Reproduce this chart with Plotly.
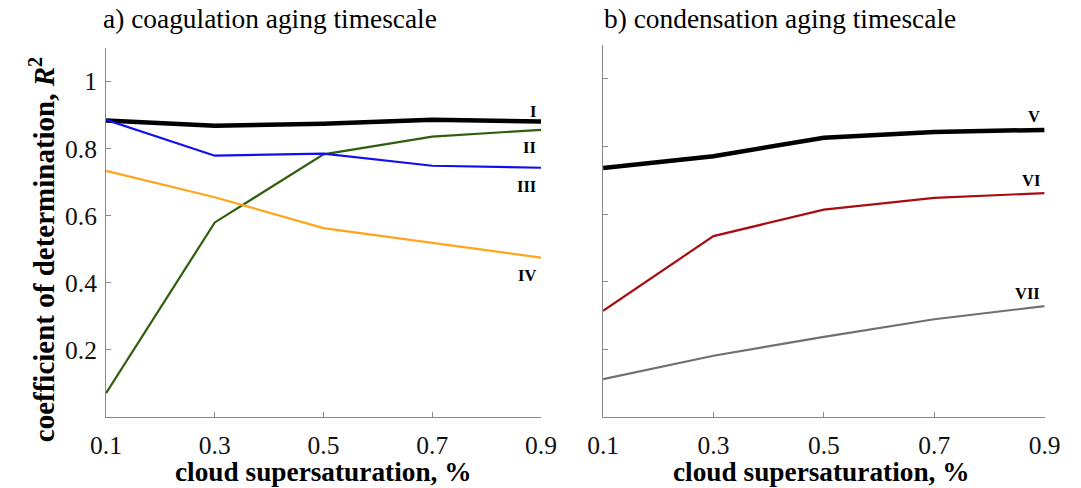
import plotly.graph_objects as go

x_vals = [0.1, 0.3, 0.5, 0.7, 0.9]

# panel a) coagulation aging timescale
coag_I = [0.884, 0.868, 0.874, 0.886, 0.881]
coag_II = [0.071, 0.580, 0.783, 0.836, 0.856]
coag_III = [0.886, 0.779, 0.785, 0.749, 0.743]
coag_IV = [0.734, 0.655, 0.563, 0.518, 0.475]

# panel b) condensation aging timescale
cond_V = [0.736, 0.771, 0.826, 0.843, 0.849]
cond_VI = [0.314, 0.535, 0.613, 0.648, 0.662]
cond_VII = [0.112, 0.181, 0.237, 0.289, 0.328]

x_ticks = [0.1, 0.3, 0.5, 0.7, 0.9]
x_tick_labels = ["0.1", "0.3", "0.5", "0.7", "0.9"]
y_ticks = [0.2, 0.4, 0.6, 0.8, 1.0]
y_tick_labels = ["0.2", "0.4", "0.6", "0.8", "1"]

FONT = "Liberation Serif"
AX = "#888888"
W, H = 1081, 488

series = [
    (coag_I, "I", "#000000", 4.5, "x", "y"),
    (coag_II, "II", "#2e5e0e", 2.2, "x", "y"),
    (coag_III, "III", "#1010ee", 2.2, "x", "y"),
    (coag_IV, "IV", "#ffa41c", 2.2, "x", "y"),
    (cond_V, "V", "#000000", 4.5, "x2", "y2"),
    (cond_VI, "VI", "#a80d10", 2.2, "x2", "y2"),
    (cond_VII, "VII", "#707070", 2.2, "x2", "y2"),
]

fig = go.Figure()
for ys, name, col, w, xa, ya in series:
    fig.add_trace(go.Scatter(x=x_vals, y=ys, mode="lines", name=name,
                             line=dict(color=col, width=w), xaxis=xa, yaxis=ya,
                             showlegend=False))

# curve labels
label_pos = [
    ("I", "x", "y", 0.912), ("II", "x", "y", 0.802), ("III", "x", "y", 0.688),
    ("IV", "x", "y", 0.423),
    ("V", "x2", "y2", 0.889), ("VI", "x2", "y2", 0.700), ("VII", "x2", "y2", 0.364),
]
for txt, xa, ya, yv in label_pos:
    fig.add_annotation(x=0.9, y=yv, xref=xa, yref=ya, text=txt, showarrow=False,
                       xanchor="right", yanchor="middle", xshift=-3,
                       font=dict(family=FONT, size=16.5, color="black", weight="bold"))

axis_common = dict(range=[0.1, 0.9], tickvals=x_ticks, ticktext=x_tick_labels,
                   showline=True, linecolor=AX, linewidth=1, ticks="inside",
                   ticklen=5, tickcolor=AX, showgrid=False, zeroline=False,
                   ticklabelstandoff=5,
                   tickfont=dict(family=FONT, size=25.5, color="#111111"))
yaxis_common = dict(range=[0, 1.1], tickvals=y_ticks,
                    showline=True, linecolor=AX, linewidth=1, ticks="inside",
                    ticklen=5, tickcolor=AX, showgrid=False, zeroline=False,
                    ticklabelstandoff=3,
                    tickfont=dict(family=FONT, size=25.5, color="#111111"))

fig.update_layout(
    width=W, height=H,
    margin=dict(l=0, r=0, t=0, b=0),
    paper_bgcolor="white", plot_bgcolor="white",
    xaxis=dict(domain=[92.8/W, 541/W], anchor="y", **axis_common),
    xaxis2=dict(domain=[605/W, 1060/W], anchor="y2", **axis_common),
    yaxis=dict(domain=[71/H, 440/H], anchor="x", ticktext=y_tick_labels,
               **yaxis_common),
    yaxis2=dict(domain=[71/H, 443/H], anchor="x2", showticklabels=False,
                **yaxis_common),
)

# panel titles
fig.add_annotation(x=88/W, y=1 - 19/H, xref="paper", yref="paper", yanchor="middle",
                   xanchor="left", showarrow=False,
                   text="a) coagulation aging timescale",
                   font=dict(family=FONT, size=27.4, color="black"))
fig.add_annotation(x=604/W, y=1 - 19/H, xref="paper", yref="paper", yanchor="middle",
                   xanchor="left", showarrow=False,
                   text="b) condensation aging timescale",
                   font=dict(family=FONT, size=27.4, color="black"))

# x axis titles
for cx in (317, 830):
    fig.add_annotation(x=cx/W, y=1 - 472/H, xref="paper", yref="paper",
                       xanchor="center", yanchor="middle", showarrow=False,
                       text="<b>cloud supersaturation, %</b>",
                       font=dict(family=FONT, size=27.3, color="black"))

# y axis title
fig.add_annotation(x=27/W, y=1 - 250/H, xref="paper", yref="paper",
                   xanchor="center", yanchor="middle", showarrow=False,
                   textangle=-90,
                   text="<b>coefficient of determination, <i>R</i><sup>2</sup></b>",
                   font=dict(family=FONT, size=29, color="black"))

fig.write_html("out.html")
